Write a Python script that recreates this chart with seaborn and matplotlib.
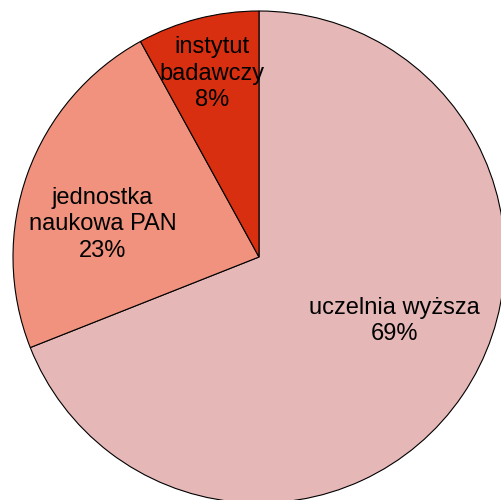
import numpy as np
import matplotlib.pyplot as plt
import seaborn as sns

sns.set_theme(style='white')
plt.rcParams['font.family'] = ['Liberation Sans', 'DejaVu Sans']

# ── DATA ──
labels = ['uczelnia wyższa', 'jednostka\nnaukowa PAN', 'instytut\nbadawczy']
shares = [69, 23, 8]
colors = ['#E6B7B7', '#F0927E', '#D82F10']

# label placement: radius fraction and angle shift (deg) per slice
lab_r = [0.61, 0.65, 0.77]
lab_shift = [9, 8, 0]

fig = plt.figure(figsize=(5.02, 5.00), dpi=100)
ax = fig.add_axes([0.0, 0.0, 1.0, 1.0])

wedges, _ = ax.pie(shares, colors=colors, startangle=90, counterclock=False,
                   radius=1.0, wedgeprops=dict(edgecolor='black', linewidth=0.8))

for w, lab, s, r, sh in zip(wedges, labels, shares, lab_r, lab_shift):
    ang = np.deg2rad((w.theta1 + w.theta2) / 2 + sh)
    ax.text(r * np.cos(ang), r * np.sin(ang), f'{lab}\n{s}%',
            ha='center', va='center', fontsize=17, linespacing=1.25, color='black')

# pie centre sits at (259, 257) px with radius ~246 px
ax.set_xlim(-259 / 246, (502 - 259) / 246)
ax.set_ylim(-(500 - 257) / 246, 257 / 246)
ax.set_aspect('equal')
ax.axis('off')

fig.savefig('out.png', dpi=100, facecolor='white')
